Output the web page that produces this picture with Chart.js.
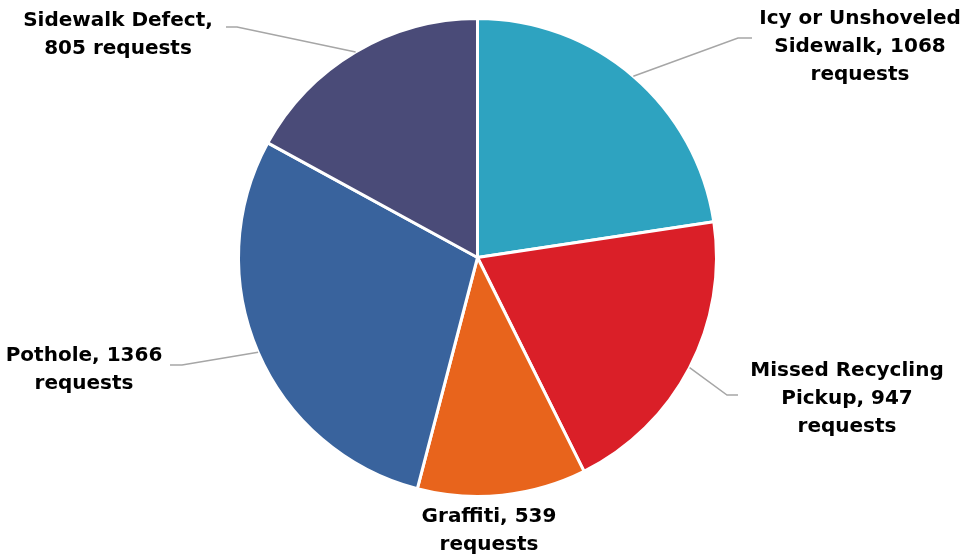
<!DOCTYPE html>
<html>
<head>
<meta charset="utf-8">
<script src="https://cdn.jsdelivr.net/npm/chart.js@4/dist/chart.umd.min.js"></script>
<style>
  html, body { margin: 0; padding: 0; background: #fff; }
  #wrap { width: 968px; height: 559px; }
</style>
</head>
<body>
<div id="wrap"><canvas id="myChart" width="968" height="559"></canvas></div>
<script>
const categories = ['Icy or Unshoveled Sidewalk', 'Missed Recycling Pickup', 'Graffiti', 'Pothole', 'Sidewalk Defect'];
const requests = [1068, 947, 539, 1366, 805];
const colors = ['#2EA3C0', '#DA1F28', '#E8641C', '#39639D', '#4A4B78'];

// label text lines, as in the picture
const labelLines = [
    ['Icy or Unshoveled', 'Sidewalk, ' + requests[0], 'requests'],
    ['Missed Recycling', 'Pickup, ' + requests[1], 'requests'],
    ['Graffiti, ' + requests[2], 'requests'],
    ['Pothole, ' + requests[3], 'requests'],
    ['Sidewalk Defect,', requests[4] + ' requests']
];

// where each label sits (centre x, first line middle y) and its leader elbow
const labelLayout = [
    { x: 860, y: 19, elbow: [738, 38], tail: [752, 38] },
    { x: 847, y: 371, elbow: [727, 395], tail: [738, 395] },
    { x: 489, y: 517, elbow: null },
    { x: 84, y: 356, elbow: [182, 365], tail: [170, 365] },
    { x: 118, y: 21, elbow: [237, 27], tail: [226, 27] }
];

const pieLabels = {
    id: 'pieLabels',
    afterDatasetsDraw(chart) {
        const c = chart.ctx;
        const arcs = chart.getDatasetMeta(0).data;
        c.save();
        arcs.forEach((arc, i) => {
            const p = arc.getProps(['x', 'y', 'startAngle', 'endAngle', 'outerRadius'], true);
            const mid = (p.startAngle + p.endAngle) / 2;
            const ex = p.x + Math.cos(mid) * p.outerRadius;
            const ey = p.y + Math.sin(mid) * p.outerRadius;
            const lay = labelLayout[i];
            if (lay.elbow) {
                c.strokeStyle = '#A6A6A6';
                c.lineWidth = 1.5;
                c.beginPath();
                c.moveTo(ex, ey);
                c.lineTo(lay.elbow[0], lay.elbow[1]);
                c.lineTo(lay.tail[0], lay.tail[1]);
                c.stroke();
            }
            c.fillStyle = '#000';
            c.font = 'bold 20px "DejaVu Sans"';
            c.textAlign = 'center';
            c.textBaseline = 'middle';
            labelLines[i].forEach((t, j) => {
                c.fillText(t, lay.x, lay.y + j * 28);
            });
        });
        c.restore();
    }
};

new Chart(document.getElementById('myChart'), {
    type: 'pie',
    data: {
        labels: categories,
        datasets: [{
            data: requests,
            backgroundColor: colors,
            borderColor: '#ffffff',
            borderWidth: 3
        }]
    },
    options: {
        responsive: false,
        animation: false,
        layout: {
            padding: { left: 237, right: 250, top: 17, bottom: 61 }
        },
        plugins: {
            legend: { display: false },
            tooltip: { enabled: false }
        }
    },
    plugins: [pieLabels]
});
</script>
</body>
</html>
